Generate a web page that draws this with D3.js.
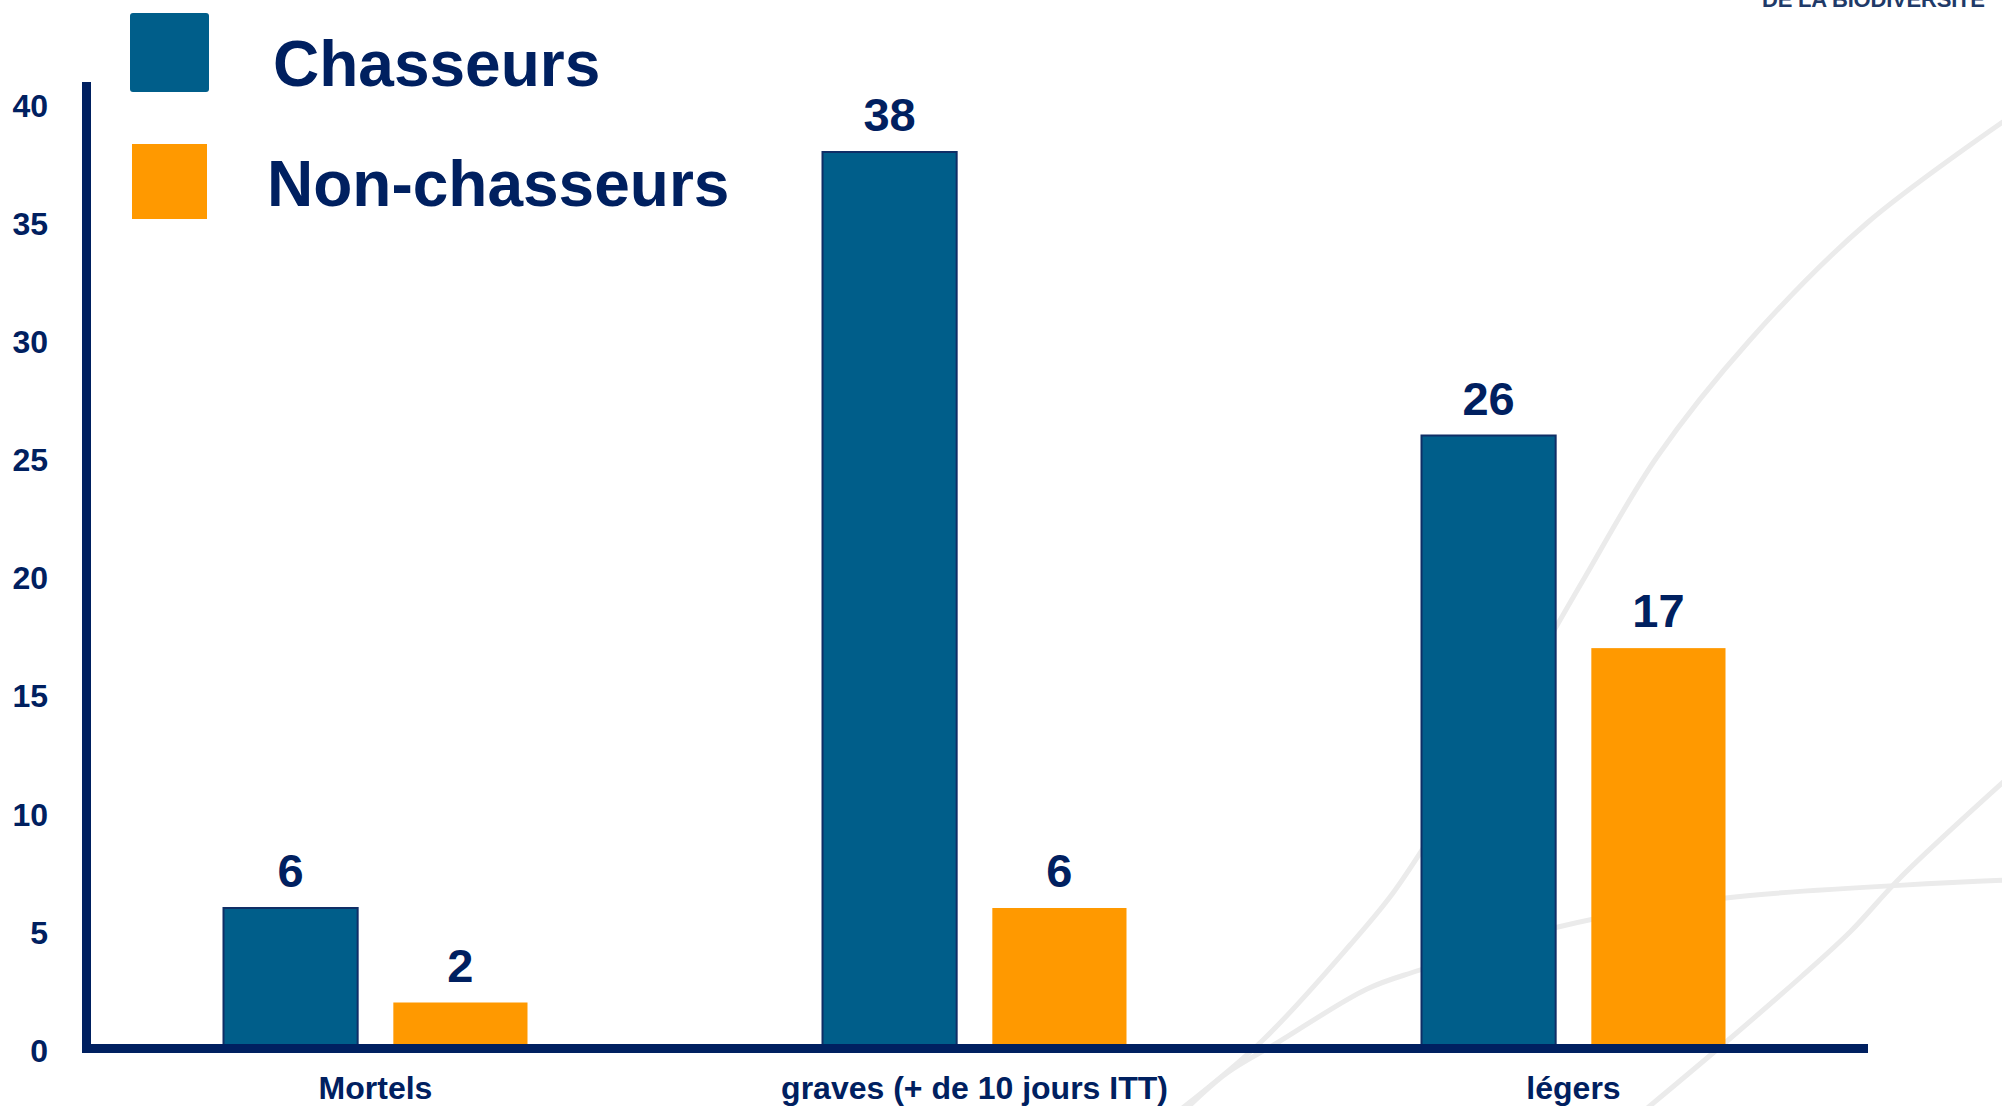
<!DOCTYPE html>
<html>
<head>
<meta charset="utf-8">
<script src="https://cdn.jsdelivr.net/npm/d3@7"></script>
<style>
  html, body { margin: 0; padding: 0; background: #ffffff; }
  svg { display: block; }
  text { font-family: "Liberation Sans", Arial, Helvetica, sans-serif; font-weight: bold; }
</style>
</head>
<body>
<svg id="chart" width="2002" height="1106"></svg>
<script>
// ---- data ----
const categories = ["Mortels", "graves (+ de 10 jours ITT)", "légers"];
const seriesNames = ["Chasseurs", "Non-chasseurs"];
const chasseurs = [6, 38, 26];
const nonChasseurs = [2, 6, 17];
const yTicks = [0, 5, 10, 15, 20, 25, 30, 35, 40];
const headerText = "DE LA BIODIVERSITE";

// ---- styles ----
const NAVY = "#002060";
const colors = { "Chasseurs": "#005E8A", "Non-chasseurs": "#FF9900" };

const svg = d3.select("#chart");

// ---- decorative template swooshes (background) ----
const swooshes = [
  [[2010,117],[1867,223],[1750,340],[1657,457],[1585,577],[1540,655],[1490,742],[1440,822],[1393,893],[1350,945],[1263,1040],[1180,1110]],
  [[2010,880],[1726,898],[1558,927],[1420,970],[1367,989],[1277,1043],[1227,1073],[1185,1110]],
  [[2010,776],[1900,878],[1851,931],[1802,976],[1726,1042],[1645,1110]]
];
const swooshLine = d3.line().curve(d3.curveCatmullRom.alpha(0.5));
svg.append("g").selectAll("path").data(swooshes).join("path")
  .attr("d", swooshLine)
  .attr("fill", "none")
  .attr("stroke", "#EBEBEB")
  .attr("stroke-width", 5);

// header text (cut off at top, as in the slide)
svg.append("text")
  .attr("x", 1762).attr("y", 7)
  .attr("font-size", 22)
  .attr("fill", "#1F3A68")
  .attr("textLength", 223)
  .text(headerText);

// ---- scales ----
const x0 = d3.scaleBand().domain(categories).range([76, 1873]).paddingInner(0).paddingOuter(0);
const x1 = d3.scaleBand().domain(seriesNames).range([-152, 152]).paddingInner(0.21);
const y = d3.scaleLinear().domain([0, 40]).range([1049.75, 104.75]);

const rows = categories.map((c, i) => ({
  category: c,
  values: [
    { key: "Chasseurs", value: chasseurs[i] },
    { key: "Non-chasseurs", value: nonChasseurs[i] }
  ]
}));

// ---- bars ----
const groups = svg.append("g").selectAll("g").data(rows).join("g")
  .attr("transform", d => `translate(${x0(d.category) + x0.bandwidth() / 2},0)`);

groups.selectAll("rect").data(d => d.values).join("rect")
  .attr("x", d => x1(d.key))
  .attr("width", x1.bandwidth())
  .attr("y", d => y(d.value))
  .attr("height", d => y(0) - y(d.value))
  .attr("fill", d => colors[d.key])
  .attr("stroke", d => d.key === "Chasseurs" ? "#0F2E66" : "none")
  .attr("stroke-width", 2);

groups.selectAll("text.val").data(d => d.values).join("text")
  .attr("class", "val")
  .attr("x", d => x1(d.key) + x1.bandwidth() / 2)
  .attr("y", d => y(d.value) - 21)
  .attr("text-anchor", "middle")
  .attr("font-size", 47)
  .attr("fill", NAVY)
  .text(d => d.value);

// ---- axes ----
const axisX = 86.5;
const yAxis = svg.append("g")
  .attr("transform", `translate(${axisX},0)`)
  .call(d3.axisLeft(y).tickValues(yTicks).tickSize(0).tickPadding(38.5).tickFormat(d3.format("d")));
yAxis.select(".domain").remove();
yAxis.selectAll("text")
  .attr("font-size", 32)
  .attr("font-family", "'Liberation Sans', Arial, sans-serif")
  .attr("font-weight", "bold")
  .attr("fill", NAVY)
  .attr("dy", "0.36em");

const xAxis = svg.append("g")
  .attr("transform", `translate(0,${y(0) - 1.25})`)
  .call(d3.axisBottom(x0).tickSize(0));
xAxis.select(".domain").remove();
xAxis.selectAll("text")
  .attr("font-size", 32)
  .attr("font-family", "'Liberation Sans', Arial, sans-serif")
  .attr("font-weight", "bold")
  .attr("fill", NAVY)
  .attr("y", 50)
  .attr("dy", 0);

// axis lines
svg.append("line")
  .attr("x1", axisX).attr("x2", axisX)
  .attr("y1", 82).attr("y2", 1053)
  .attr("stroke", NAVY).attr("stroke-width", 9);
svg.append("line")
  .attr("x1", 82).attr("x2", 1868)
  .attr("y1", y(0) - 1.25).attr("y2", y(0) - 1.25)
  .attr("stroke", NAVY).attr("stroke-width", 9);

// ---- legend ----
const legendItems = [
  { key: "Chasseurs", sx: 130, sy: 13, size: 79, tx: 273, ty: 86 },
  { key: "Non-chasseurs", sx: 132, sy: 144, size: 75, tx: 267, ty: 206 }
];
const legend = svg.append("g");
legend.selectAll("rect").data(legendItems).join("rect")
  .attr("x", d => d.sx).attr("y", d => d.sy)
  .attr("width", d => d.size).attr("height", d => d.size)
  .attr("rx", d => d.key === "Chasseurs" ? 3 : 0)
  .attr("fill", d => colors[d.key]);
legend.selectAll("text").data(legendItems).join("text")
  .attr("x", d => d.tx).attr("y", d => d.ty)
  .attr("font-size", 64)
  .attr("fill", NAVY)
  .text(d => d.key);
</script>
</body>
</html>
